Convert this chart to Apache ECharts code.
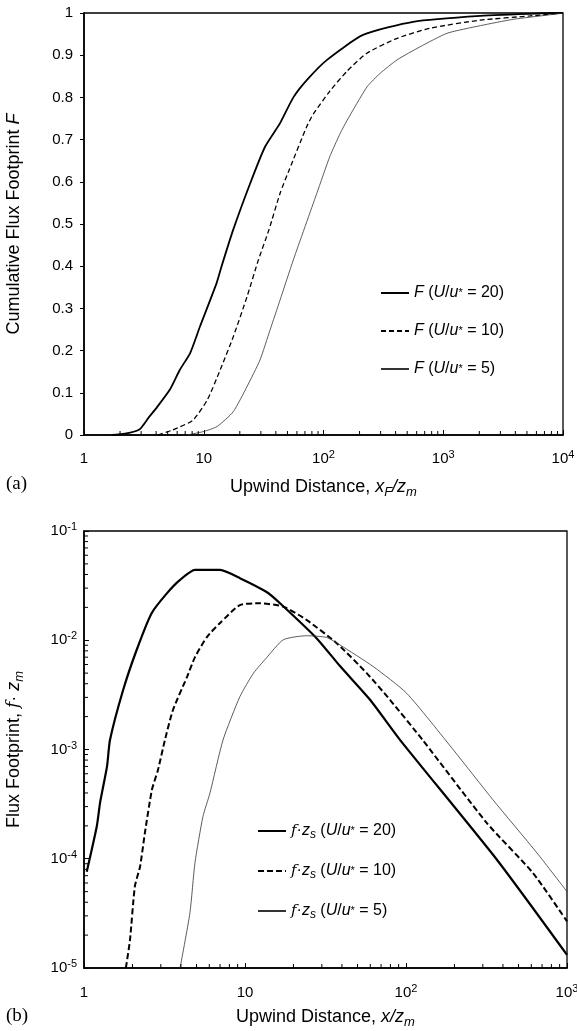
<!DOCTYPE html>
<html>
<head>
<meta charset="utf-8">
<script src="https://cdn.jsdelivr.net/npm/echarts@6/dist/echarts.min.js"></script>
<style>
  html, body { margin: 0; padding: 0; background: #fff; }
  #main { width: 577px; height: 1031px; }
</style>
</head>
<body>
<div id="main"></div>
<script>
// ---- panel (a): cumulative footprint F vs x_F/z_m ----
var xF20 = [1.7, 2.2, 2.9, 3.5, 4.0, 5.2, 6.3, 7.7, 9.3, 12.8, 14.1, 17.6, 24.4, 32.5, 43.4, 56, 72.5, 107, 214, 560, 2040, 6500, 10000];
var F20  = [0, 0.003, 0.013, 0.043, 0.063, 0.107, 0.154, 0.194, 0.257, 0.36, 0.40, 0.486, 0.596, 0.683, 0.739, 0.80, 0.841, 0.889, 0.948, 0.979, 0.993, 0.999, 1];

var xF10 = [4.15, 5.5, 8.1, 10.7, 13.7, 17.6, 23, 28.6, 35, 43.4, 52, 72.5, 82, 113, 157, 231, 412, 777, 2040, 5300, 10000];
var F10  = [0, 0.012, 0.035, 0.083, 0.154, 0.232, 0.328, 0.415, 0.486, 0.573, 0.63, 0.731, 0.76, 0.815, 0.862, 0.905, 0.94, 0.964, 0.983, 0.993, 1];

var xF5 = [7.25, 9.9, 12.9, 17.6, 23, 29.5, 35.8, 43.4, 56, 88, 113, 138, 157, 231, 297, 412, 641, 1078, 2040, 3840, 7380, 10000];
var F5  = [0, 0.008, 0.02, 0.055, 0.115, 0.178, 0.249, 0.32, 0.415, 0.573, 0.66, 0.715, 0.745, 0.825, 0.857, 0.889, 0.92, 0.952, 0.97, 0.985, 0.995, 1];

// ---- panel (b): footprint f*z_m vs x/z_m ----
var x20 = [1.04, 1.2, 1.26, 1.39, 1.45, 1.75, 2.12, 2.63, 3.28, 3.95, 4.89, 7.0, 9.3, 13.7, 16.5, 27.9, 38.9, 59.8, 92, 367, 1000];
var f20 = [7.6e-5, 1.97e-4, 3.3e-4, 7.0e-4, 1.22e-3, 3.5e-3, 8.1e-3, 0.0177, 0.027, 0.0357, 0.044, 0.044, 0.037, 0.0275, 0.0218, 0.0104, 5.8e-3, 2.85e-3, 1.22e-3, 9.8e-5, 1.32e-5];

var x10 = [1.82, 1.93, 2.07, 2.23, 2.39, 2.64, 2.88, 3.18, 3.57, 4.36, 4.89, 5.8, 7.0, 9.3, 12.4, 17.3, 24.2, 37.1, 57, 79.5, 127, 318, 615, 1000];
var f10 = [1e-5, 1.8e-5, 5.6e-5, 8.5e-5, 1.73e-4, 4.26e-4, 6.5e-4, 1.22e-3, 2.3e-3, 4.6e-3, 7.0e-3, 0.0107, 0.0144, 0.021, 0.0218, 0.0203, 0.0153, 9.4e-3, 5.0e-3, 2.85e-3, 1.22e-3, 2.12e-4, 7.4e-5, 2.67e-5];

var x5 = [3.95, 4.55, 4.89, 5.48, 6.06, 7.3, 9.3, 11.3, 13.6, 17.3, 24.2, 32.2, 38.9, 62.7, 101, 196, 347, 651, 1000];
var f5 = [1e-5, 3.2e-5, 9.2e-5, 2.43e-4, 4.0e-4, 1.22e-3, 3.05e-3, 5.0e-3, 6.9e-3, 0.0101, 0.011, 0.0106, 9.06e-3, 5.73e-3, 3.27e-3, 1e-3, 3.46e-4, 1.13e-4, 5.0e-5];

var legendA = { F20: '20', F10: '10', F5: '5' };
var legendB = { f20: '20', f10: '10', f5: '5' };

function pairs(xs, ys) {
  return xs.map(function (x, i) { return [x, ys[i]]; });
}

// minor tick positions 2..9 x 10^k
function minors(fromExp, toExp) {
  var out = [];
  for (var e = fromExp; e < toExp; e++) {
    for (var m = 2; m <= 9; m++) out.push(m * Math.pow(10, e));
  }
  return out;
}

function sup(v) {
  var e = Math.round(Math.log(v) / Math.LN10);
  if (e === 0) return '1';
  if (e === 1) return '10';
  return '10{sup|' + e + '}';
}

var FONT = 'Liberation Sans';
var supRich = { sup: { fontSize: 11, verticalAlign: 'top', fontFamily: FONT, color: '#000' } };
var nameRich = {
  n: { fontSize: 18, fontFamily: FONT, color: '#000' },
  i: { fontSize: 18, fontFamily: FONT, fontStyle: 'italic', color: '#000' },
  sub: { fontSize: 13, fontFamily: FONT, fontStyle: 'italic', verticalAlign: 'bottom', color: '#000' },
  f: { fontSize: 17, fontFamily: 'DejaVu Serif', fontStyle: 'italic', color: '#000' }
};
var legRich = {
  i: { fontSize: 16, fontFamily: FONT, fontStyle: 'italic', color: '#000' },
  st: { fontSize: 11, fontFamily: FONT, color: '#000' },
  sub: { fontSize: 12, fontFamily: FONT, fontStyle: 'italic', verticalAlign: 'bottom', color: '#000' },
  f: { fontSize: 15, fontFamily: 'DejaVu Serif', fontStyle: 'italic', color: '#000' }
};

function tickSeries(xi, yi, vals, ref, dir) {
  return {
    type: 'custom', xAxisIndex: xi, yAxisIndex: yi, silent: true, z: 5,
    data: vals.map(function (v) { return dir === 'x' ? [v, ref] : [ref, v]; }),
    renderItem: function (params, api) {
      var cs = params.coordSys;
      var p = api.coord([api.value(0), api.value(1)]);
      var shape = dir === 'x'
        ? { x1: p[0], y1: cs.y + cs.height, x2: p[0], y2: cs.y + cs.height - 4 }
        : { x1: cs.x, y1: p[1], x2: cs.x + 4, y2: p[1] };
      return { type: 'line', shape: shape, style: { stroke: '#000', lineWidth: 1 } };
    }
  };
}

var axisLineStyle = { lineStyle: { color: '#000', width: 1.6 } };
var noMark = { color: 'rgba(0,0,0,0)' };

var chart = echarts.init(document.getElementById('main'), null, { renderer: 'canvas' });
chart.setOption({
  animation: false,
  backgroundColor: '#fff',
  grid: [
    { left: 84, top: 13, right: 14, bottom: 596, outerBoundsMode: 'none', containLabel: false,
      show: true, borderColor: '#000', borderWidth: 1.3 },
    { left: 84, top: 531, right: 10, bottom: 63, outerBoundsMode: 'none', containLabel: false,
      show: true, borderColor: '#000', borderWidth: 1.3 }
  ],
  xAxis: [
    {
      type: 'log', gridIndex: 0, min: 1, max: 10000, logBase: 10, splitNumber: 4,
      axisLine: axisLineStyle,
      axisTick: { inside: true, length: 5, lineStyle: { color: '#000' } },
      splitLine: { show: false },
      axisLabel: { margin: 14, fontSize: 15, fontFamily: FONT, color: '#000', lineHeight: 19, formatter: sup, rich: supRich },
      name: '{n|Upwind Distance, }{i|x}{sub|F}{i|/z}{sub|m}',
      nameLocation: 'middle', nameGap: 40,
      nameTextStyle: { lineHeight: 24, rich: nameRich }
    },
    {
      type: 'log', gridIndex: 1, min: 1, max: 1000, logBase: 10, splitNumber: 3,
      axisLine: axisLineStyle,
      axisTick: { inside: true, length: 5, lineStyle: { color: '#000' } },
      splitLine: { show: false },
      axisLabel: { margin: 15, fontSize: 15, fontFamily: FONT, color: '#000', lineHeight: 19, formatter: sup, rich: supRich },
      name: '{n|Upwind Distance, }{i|x/z}{sub|m}',
      nameLocation: 'middle', nameGap: 37,
      nameTextStyle: { lineHeight: 24, rich: nameRich }
    }
  ],
  yAxis: [
    {
      type: 'value', gridIndex: 0, min: 0, max: 1, interval: 0.1,
      axisLine: axisLineStyle,
      axisTick: { inside: false, length: 4, lineStyle: { color: '#000' } },
      splitLine: { show: false },
      axisLabel: { margin: 11, fontSize: 15, fontFamily: FONT, color: '#000' },
      name: '{n|Cumulative Flux Footprint }{i|F}',
      nameLocation: 'middle', nameGap: 58,
      nameTextStyle: { lineHeight: 24, rich: nameRich }
    },
    {
      type: 'log', gridIndex: 1, min: 1e-5, max: 0.1, logBase: 10, splitNumber: 4,
      axisLine: axisLineStyle,
      axisTick: { inside: true, length: 5, lineStyle: { color: '#000' } },
      splitLine: { show: false },
      axisLabel: { margin: 7, fontSize: 15, fontFamily: FONT, color: '#000', lineHeight: 19, formatter: sup, rich: supRich },
      name: '{n|Flux Footprint, }{f|f}{n|· }{i|z}{sub|m}',
      nameLocation: 'middle', nameGap: 58,
      nameTextStyle: { lineHeight: 24, rich: nameRich }
    }
  ],
  legend: [
    {
      data: ['F20', 'F10', 'F5'], orient: 'vertical', left: 375, top: 278,
      itemWidth: 28, itemHeight: 12, itemGap: 18,
      itemStyle: noMark,
      formatter: function (n) { return '{i|F} ({i|U}/{i|u}{st|*} = ' + legendA[n] + ')'; },
      textStyle: { fontSize: 16, fontFamily: FONT, color: '#000', lineHeight: 20, rich: legRich }
    },
    {
      data: ['f20', 'f10', 'f5'], orient: 'vertical', left: 252, top: 816,
      itemWidth: 28, itemHeight: 12, itemGap: 20,
      itemStyle: noMark,
      formatter: function (n) { return '{f|f}·{i|z}{sub|s} ({i|U}/{i|u}{st|*} = ' + legendB[n] + ')'; },
      textStyle: { fontSize: 16, fontFamily: FONT, color: '#000', lineHeight: 20, rich: legRich }
    }
  ],
  graphic: [
    { type: 'text', left: 6, top: 475, style: { text: '(a)', font: '19px "Liberation Serif"', fill: '#000' } },
    { type: 'text', left: 6, top: 1007, style: { text: '(b)', font: '19px "Liberation Serif"', fill: '#000' } }
  ],
  series: [
    { name: 'F20', type: 'line', xAxisIndex: 0, yAxisIndex: 0, symbol: 'none', smooth: 0.2,
      data: pairs(xF20, F20), lineStyle: { color: '#000', width: 1.8 }, itemStyle: noMark },
    { name: 'F10', type: 'line', xAxisIndex: 0, yAxisIndex: 0, symbol: 'none', smooth: 0.2,
      data: pairs(xF10, F10), lineStyle: { color: '#000', width: 1.3, type: [5, 3] }, itemStyle: noMark },
    { name: 'F5', type: 'line', xAxisIndex: 0, yAxisIndex: 0, symbol: 'none', smooth: 0.2,
      data: pairs(xF5, F5), lineStyle: { color: '#333', width: 0.8 }, itemStyle: noMark },
    { name: 'f20', type: 'line', xAxisIndex: 1, yAxisIndex: 1, symbol: 'none', smooth: 0.2,
      data: pairs(x20, f20), lineStyle: { color: '#000', width: 2.2 }, itemStyle: noMark },
    { name: 'f10', type: 'line', xAxisIndex: 1, yAxisIndex: 1, symbol: 'none', smooth: 0.2,
      data: pairs(x10, f10), lineStyle: { color: '#000', width: 2, type: [6, 3] }, itemStyle: noMark },
    { name: 'f5', type: 'line', xAxisIndex: 1, yAxisIndex: 1, symbol: 'none', smooth: 0.2,
      data: pairs(x5, f5), lineStyle: { color: '#333', width: 0.8 }, itemStyle: noMark },
    tickSeries(0, 0, minors(0, 4), 0.5, 'x'),
    tickSeries(1, 1, minors(0, 3), 1e-3, 'x'),
    tickSeries(1, 1, minors(-5, -1), 10, 'y')
  ]
});
</script>
</body>
</html>
